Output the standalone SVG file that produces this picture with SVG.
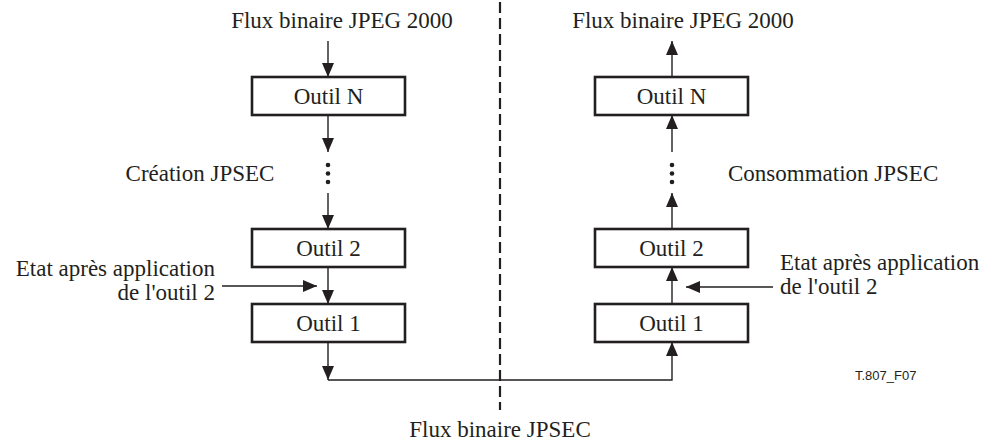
<svg xmlns="http://www.w3.org/2000/svg" width="995" height="445" viewBox="0 0 995 445">
  <style>
    .t { font-family: "Liberation Serif", "Times New Roman", serif; font-size: 23px; fill: #231f20; }
    .small { font-family: "Liberation Sans", Arial, sans-serif; font-size: 13px; fill: #231f20; }
    .box { fill: #ffffff; stroke: #231f20; stroke-width: 2.6; }
    .ln { fill: none; stroke: #231f20; stroke-width: 1.4; }
    .dash { fill: none; stroke: #231f20; stroke-width: 2.2; stroke-dasharray: 11 5; }
    .dot { fill: #231f20; }
  </style>
  <defs>
    <marker id="ah" viewBox="0 0 14 12" refX="14" refY="6" markerWidth="14" markerHeight="12" markerUnits="userSpaceOnUse" orient="auto">
      <path d="M0,0 L14,6 L0,12 Z" fill="#231f20"/>
    </marker>
  </defs>

  <!-- separator between creation and consumption sides -->
  <line class="dash" x1="500" y1="2" x2="500" y2="410"/>

  <!-- labels -->
  <text class="t" x="342" y="28" text-anchor="middle">Flux binaire JPEG 2000</text>
  <text class="t" x="683" y="28" text-anchor="middle">Flux binaire JPEG 2000</text>
  <text class="t" x="200" y="181" text-anchor="middle">Création JPSEC</text>
  <text class="t" x="728" y="181">Consommation JPSEC</text>
  <text class="t" x="215" y="276" text-anchor="end">Etat après application</text>
  <text class="t" x="215" y="300" text-anchor="end">de l'outil 2</text>
  <text class="t" x="780" y="270">Etat après application</text>
  <text class="t" x="780" y="294">de l'outil 2</text>
  <text class="t" x="500" y="437" text-anchor="middle">Flux binaire JPSEC</text>
  <text class="small" x="855" y="380">T.807_F07</text>

  <!-- creation side -->
  <g id="creation-outil-n">
    <rect class="box" x="252" y="77" width="153" height="38"/>
    <text class="t" x="328.5" y="104" text-anchor="middle">Outil N</text>
  </g>
  <g id="creation-outil-2">
    <rect class="box" x="252" y="229" width="153" height="38"/>
    <text class="t" x="328.5" y="256" text-anchor="middle">Outil 2</text>
  </g>
  <g id="creation-outil-1">
    <rect class="box" x="252" y="304" width="153" height="38"/>
    <text class="t" x="328.5" y="331" text-anchor="middle">Outil 1</text>
  </g>

  <!-- consumption side -->
  <g id="consommation-outil-n">
    <rect class="box" x="595" y="77" width="153" height="38"/>
    <text class="t" x="671.5" y="104" text-anchor="middle">Outil N</text>
  </g>
  <g id="consommation-outil-2">
    <rect class="box" x="595" y="229" width="153" height="38"/>
    <text class="t" x="671.5" y="256" text-anchor="middle">Outil 2</text>
  </g>
  <g id="consommation-outil-1">
    <rect class="box" x="595" y="304" width="153" height="38"/>
    <text class="t" x="671.5" y="331" text-anchor="middle">Outil 1</text>
  </g>

  <!-- ellipsis dots between tools -->
  <g id="ellipses">
    <circle class="dot" cx="328" cy="165" r="2.3"/>
    <circle class="dot" cx="328" cy="173.5" r="2.3"/>
    <circle class="dot" cx="328" cy="182" r="2.3"/>
    <circle class="dot" cx="672" cy="165" r="2.3"/>
    <circle class="dot" cx="672" cy="173.5" r="2.3"/>
    <circle class="dot" cx="672" cy="182" r="2.3"/>
  </g>

  <g id="connectors">
    <!-- creation flow, downward -->
    <line class="ln" x1="328" y1="41" x2="328" y2="77" marker-end="url(#ah)"/>
    <line class="ln" x1="328" y1="115" x2="328" y2="152" marker-end="url(#ah)"/>
    <line class="ln" x1="328" y1="193" x2="328" y2="229" marker-end="url(#ah)"/>
    <line class="ln" x1="328" y1="267" x2="328" y2="304" marker-end="url(#ah)"/>
    <line class="ln" x1="222" y1="286" x2="317" y2="286" marker-end="url(#ah)"/>
    <line class="ln" x1="328" y1="342" x2="328" y2="380" marker-end="url(#ah)"/>
    <!-- JPSEC codestream link -->
    <polyline class="ln" points="328,380 672,380 672,342" marker-end="url(#ah)"/>
    <!-- consumption flow, upward -->
    <line class="ln" x1="672" y1="304" x2="672" y2="267" marker-end="url(#ah)"/>
    <line class="ln" x1="773" y1="287" x2="686" y2="287" marker-end="url(#ah)"/>
    <line class="ln" x1="672" y1="229" x2="672" y2="193" marker-end="url(#ah)"/>
    <line class="ln" x1="672" y1="152" x2="672" y2="115" marker-end="url(#ah)"/>
    <line class="ln" x1="672" y1="77" x2="672" y2="41" marker-end="url(#ah)"/>
  </g>
</svg>
